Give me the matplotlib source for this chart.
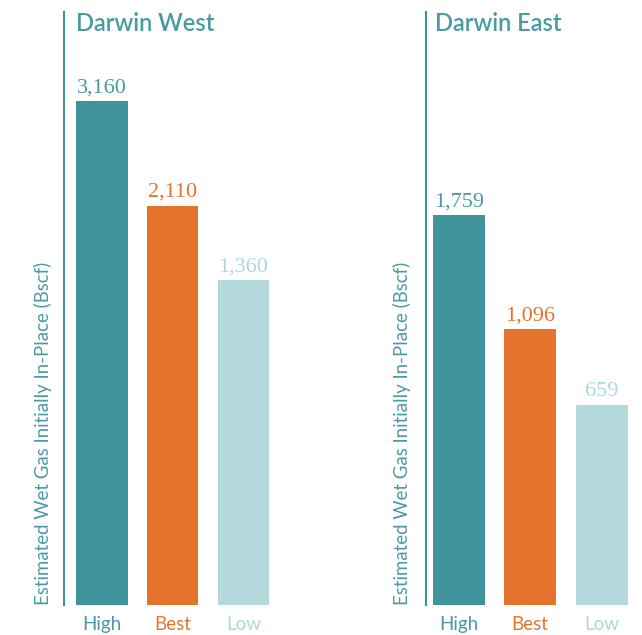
import numpy as np
import matplotlib
matplotlib.use('Agg')
from matplotlib import pyplot as plt

cases = ['High', 'Best', 'Low']
west = [3160, 2110, 1360]
east = [1759, 1096, 659]
titles = ['Darwin West', 'Darwin East']
ylabel = 'Estimated Wet Gas Initially In-Place (Bscf)'

teal = '#3f939b'
colors = ['#3f939b', '#e4742d', '#b4d9dc']
text_colors = ['#4a9aa3', '#e4742d', '#a9d9de']

plt.rcParams['font.family'] = ['Lato', 'DejaVu Sans']

fig = plt.figure(figsize=(6.42, 6.35), dpi=100)
ax1 = fig.add_axes([63.5 / 642, 0.048, 218 / 642, 0.933])
ax2 = fig.add_axes([425.7 / 642, 0.048, 215.3 / 642, 0.933])

# the source chart does not start its bars at zero, so each panel gets its own baseline
panels = [
    (ax1, west, titles[0], (-1899, 4058), (-0.542, 2.537), 0.729, 0.057, -0.054),
    (ax2, east, titles[1], (-502.5, 2940.6), (-0.4615, 2.55), 0.727, 0.043, -0.070),
]

x = np.arange(len(cases))
for ax, vals, title, ylim, xlim, w, tx, lx in panels:
    vals = np.array(vals)
    base = ylim[0]
    ax.bar(x, vals - base, bottom=base, width=w, color=colors)
    ax.set_ylim(*ylim)
    ax.set_xlim(*xlim)
    for xi, v, c in zip(x, vals, text_colors):
        ax.annotate(f'{v:,}', (xi, v), xytext=(0, 6.5), textcoords='offset points',
                    ha='center', va='baseline', fontsize=16, color=c,
                    family='Liberation Serif')
    ax.set_xticks(x)
    ax.set_xticklabels(cases, fontsize=13.5)
    for lab, c in zip(ax.get_xticklabels(), text_colors):
        lab.set_color(c)
    ax.tick_params(axis='x', length=0, pad=8.5)
    ax.set_yticks([])
    for s in ['top', 'right', 'bottom']:
        ax.spines[s].set_visible(False)
    ax.spines['left'].set_color(teal)
    ax.spines['left'].set_linewidth(1.5)
    ax.set_ylabel(ylabel, loc='bottom', fontsize=13.4, color='#4a9aa3')
    ax.yaxis.set_label_coords(lx, 0)
    ax.text(tx, 0.968, title, transform=ax.transAxes, fontsize=17, fontweight='semibold',
            color='#4a9aa3', va='baseline', ha='left')

fig.savefig('out.png', dpi=100)
